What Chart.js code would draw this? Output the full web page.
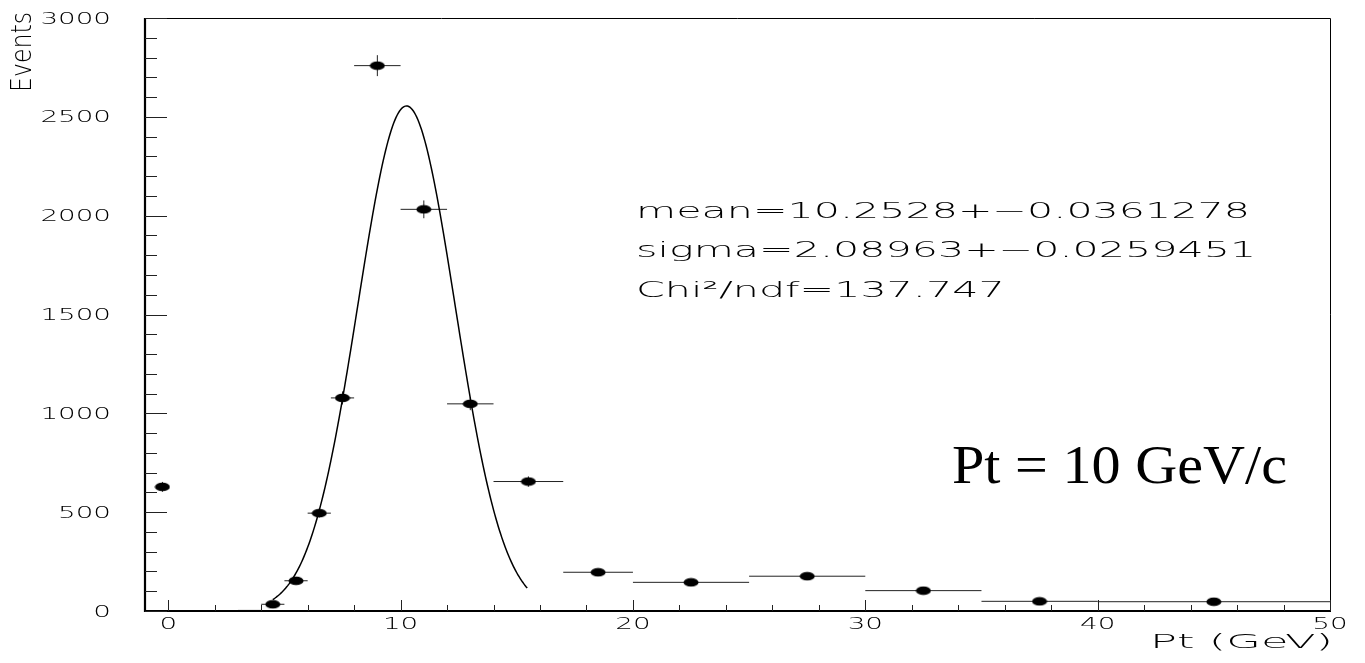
<!DOCTYPE html>
<html>
<head>
<meta charset="utf-8">
<script src="https://cdn.jsdelivr.net/npm/chart.js@4.4.0/dist/chart.umd.min.js"></script>
<style>
  html, body { margin: 0; padding: 0; background: #fff; }
</style>
</head>
<body>
<canvas id="chart-pt" width="1365" height="663"></canvas>
<script>
// histogram bins: centre, content, half width, error
const binX    = [-0.25, 4.5, 5.5, 6.5, 7.5, 9, 11, 13, 15.5, 18.5, 22.5, 27.5, 32.5, 37.5, 45];
const binY    = [628, 34, 153, 495, 1078, 2759, 2032, 1048, 655, 196, 145, 176, 103, 49, 47];
const binHalf = [0.25, 0.5, 0.5, 0.5, 0.5, 1, 1, 1, 1.5, 1.5, 2.5, 2.5, 2.5, 2.5, 5];
const binErr  = [25, 6, 12, 22, 33, 53, 45, 32, 26, 14, 12, 13, 10, 7, 7];

// nearly empty bins just below the fit range
const lowX    = [2.5, 3.5];
const lowY    = [2, 3];
const lowHalf = [0.5, 0.5];

// gaussian fit
const fitMean  = 10.2528;
const fitSigma = 2.08963;
const fitNorm  = 2555;
const fitFrom  = 4.5;
const fitTo    = 15.45;
const statLines = ['mean=10.2528+\u22120.0361278', 'sigma=2.08963+\u22120.0259451', 'Chi\u00b2/ndf=137.747'];

const xTicks = [0, 10, 20, 30, 40, 50];
const yTicks = [0, 500, 1000, 1500, 2000, 2500, 3000];

const fitPts = [];
for (let x = fitFrom; x <= fitTo + 1e-9; x += 0.05) {
  const d = (x - fitMean) / fitSigma;
  fitPts.push({ x: x, y: fitNorm * Math.exp(-0.5 * d * d) });
}

// filled ellipse marker
const dot = document.createElement('canvas');
dot.width = 16; dot.height = 10;
const dctx = dot.getContext('2d');
dctx.fillStyle = '#000';
dctx.beginPath();
dctx.ellipse(8, 5, 7.5, 4.3, 0, 0, Math.PI * 2);
dctx.fill();

const FONT = '"DejaVu Sans"';

function textWidth(ctx, str, font) {
  ctx.save();
  ctx.font = font;
  const w = ctx.measureText(str).width;
  ctx.restore();
  return w;
}

// draws text stretched horizontally by sx
function drawText(ctx, str, x, base, font, sx, align) {
  const w = textWidth(ctx, str, font) * sx;
  let x0 = x;
  if (align === 'right') x0 = x - w;
  else if (align === 'center') x0 = x - w / 2;
  ctx.save();
  ctx.font = font;
  ctx.fillStyle = '#000';
  ctx.textAlign = 'left';
  ctx.textBaseline = 'alphabetic';
  ctx.translate(x0, base);
  ctx.scale(sx, 1);
  ctx.fillText(str, 0, 0);
  ctx.restore();
}

const errorBars = {
  id: 'errorBars',
  beforeDatasetsDraw(chart) {
    const ctx = chart.ctx;
    const xs = chart.scales.x, ys = chart.scales.y;
    ctx.save();
    ctx.strokeStyle = '#222';
    ctx.lineWidth = 1;
    chart.data.datasets.forEach((ds, i) => {
      if (!ds.xErr) return;
      ds.data.forEach((p, j) => {
        const px = xs.getPixelForValue(p.x), py = ys.getPixelForValue(p.y);
        const l = xs.getPixelForValue(p.x - ds.xErr[j]);
        const r = xs.getPixelForValue(p.x + ds.xErr[j]);
        ctx.beginPath();
        ctx.moveTo(l, py); ctx.lineTo(r, py);
        if (ds.yErr) {
          ctx.moveTo(px, ys.getPixelForValue(p.y - ds.yErr[j]));
          ctx.lineTo(px, ys.getPixelForValue(p.y + ds.yErr[j]));
        }
        ctx.stroke();
      });
    });
    ctx.restore();
  }
};

const frame = {
  id: 'frame',
  afterDraw(chart) {
    const ctx = chart.ctx;
    const a = chart.chartArea;
    const xs = chart.scales.x, ys = chart.scales.y;
    ctx.save();
    // box
    ctx.strokeStyle = '#000';
    ctx.lineWidth = 1;
    ctx.beginPath();
    ctx.moveTo(a.left, a.top + 0.5); ctx.lineTo(a.right + 0.5, a.top + 0.5); ctx.lineTo(a.right + 0.5, a.bottom);
    ctx.stroke();
    ctx.lineWidth = 2.2;
    ctx.beginPath();
    ctx.moveTo(a.left, a.top); ctx.lineTo(a.left, a.bottom); ctx.lineTo(a.right + 1, a.bottom);
    ctx.stroke();

    // inner ticks
    ctx.lineWidth = 1;
    ctx.strokeStyle = '#222';
    ctx.beginPath();
    for (let v = 0; v <= ys.max; v += 100) {
      const y = Math.round(ys.getPixelForValue(v)) + 0.5;
      const len = v % 500 === 0 ? 22 : 12;
      ctx.moveTo(a.left, y); ctx.lineTo(a.left + len, y);
    }
    for (let v = 0; v <= xs.max; v += 2) {
      const x = Math.round(xs.getPixelForValue(v)) + 0.5;
      const len = v % 10 === 0 ? 11 : 6;
      ctx.moveTo(x, a.bottom); ctx.lineTo(x, a.bottom - len);
    }
    ctx.stroke();

    // tick labels
    const tickFont = '200 15px ' + FONT;
    ys.ticks.forEach(t => {
      drawText(ctx, String(t.value), 111, ys.getPixelForValue(t.value) + 5.5, tickFont, 1.85, 'right');
    });
    xs.ticks.forEach(t => {
      drawText(ctx, String(t.value), xs.getPixelForValue(t.value), 629, tickFont, 1.85, 'center');
    });

    // axis titles
    const xtFont = '200 20px ' + FONT;
    const xtSx = 183 / textWidth(ctx, 'Pt (GeV)', xtFont);
    drawText(ctx, 'Pt (GeV)', 1333, 648, xtFont, xtSx, 'right');

    ctx.save();
    ctx.translate(31, 92);
    ctx.rotate(-Math.PI / 2);
    const ytFont = '200 29px ' + FONT;
    drawText(ctx, 'Events', 0, 0, ytFont, 80 / textWidth(ctx, 'Events', ytFont), 'left');
    ctx.restore();

    // fit results
    const stFont = '200 21px ' + FONT;
    const stSx = 614 / textWidth(ctx, statLines[0], stFont);
    [218, 257, 297].forEach((b, i) => drawText(ctx, statLines[i], 636, b, stFont, stSx, 'left'));

    // label
    const lbFont = '54px "Liberation Serif"';
    const lbStr = 'Pt = 10 GeV/c';
    drawText(ctx, lbStr, 952, 483, lbFont, 335 / textWidth(ctx, lbStr, lbFont), 'left');
    ctx.restore();
  }
};

new Chart('chart-pt', {
  type: 'scatter',
  data: {
    datasets: [
      {
        data: binX.map((x, i) => ({ x: x, y: binY[i] })),
        xErr: binHalf,
        yErr: binErr,
        pointStyle: dot,
        pointRadius: 8,
        showLine: false
      },
      {
        data: lowX.map((x, i) => ({ x: x, y: lowY[i] })),
        xErr: lowHalf,
        pointRadius: 0,
        showLine: false
      },
      {
        type: 'line',
        data: fitPts,
        borderColor: '#000',
        borderWidth: 1.5,
        pointRadius: 0,
        tension: 0,
        fill: false
      }
    ]
  },
  options: {
    responsive: false,
    devicePixelRatio: 1,
    animation: false,
    layout: { padding: { top: 18, right: 35, left: 0, bottom: 0 } },
    plugins: { legend: { display: false }, tooltip: { enabled: false } },
    scales: {
      x: {
        type: 'linear',
        min: -1,
        max: 50,
        afterBuildTicks: s => { s.ticks = xTicks.map(v => ({ value: v })); },
        afterFit: s => { s.height = 52; },
        ticks: { display: false },
        grid: { display: false },
        border: { display: false }
      },
      y: {
        min: 0,
        max: 3000,
        afterBuildTicks: s => { s.ticks = yTicks.map(v => ({ value: v })); },
        afterFit: s => { s.width = 145; },
        ticks: { display: false },
        grid: { display: false },
        border: { display: false }
      }
    }
  },
  plugins: [errorBars, frame]
});
</script>
</body>
</html>
